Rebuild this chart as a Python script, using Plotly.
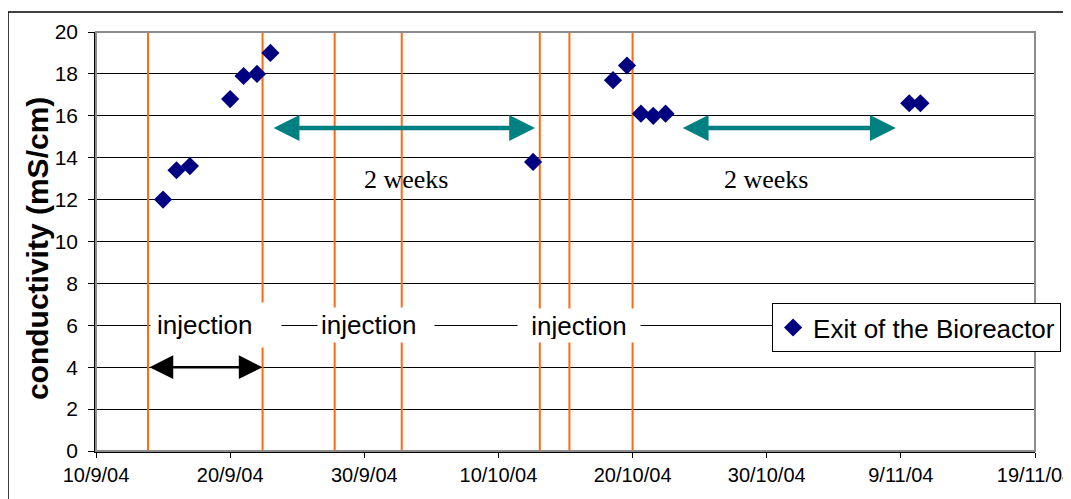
import plotly.graph_objects as go

# ---- data ----
sample_dates = [
    "2004-09-15", "2004-09-16", "2004-09-17", "2004-09-20", "2004-09-21",
    "2004-09-22", "2004-09-23", "2004-10-12 14:00", "2004-10-18 13:00",
    "2004-10-19 14:00", "2004-10-20 15:00", "2004-10-21 13:00",
    "2004-10-22 11:00", "2004-11-09 15:00", "2004-11-10 11:00",
]
conductivity = [12.0, 13.4, 13.6, 16.8, 17.9, 18.0, 19.0, 13.8, 17.7,
                18.4, 16.1, 16.0, 16.1, 16.6, 16.6]

injection_lines = [
    "2004-09-13 21:00", "2004-09-22 10:00", "2004-09-27 19:00",
    "2004-10-02 19:00", "2004-10-13 02:00", "2004-10-15 07:00",
    "2004-10-20 00:00",
]

tick_dates = ["2004-09-10", "2004-09-20", "2004-09-30", "2004-10-10",
              "2004-10-20", "2004-10-30", "2004-11-09", "2004-11-19"]
tick_labels = ["10/9/04", "20/9/04", "30/9/04", "10/10/04",
               "20/10/04", "30/10/04", "9/11/04", "19/11/04"]

SANS = "Liberation Sans, Arial, sans-serif"
SERIF = "Liberation Serif, Times New Roman, serif"
ORANGE = "#FF6A10"
TEAL = "#008080"

fig = go.Figure()
fig.add_trace(go.Scatter(
    x=sample_dates, y=conductivity, mode="markers",
    name="Exit of the Bioreactor",
    marker=dict(symbol="diamond", size=14, color="#000080"),
))

# orange injection markers
for d in injection_lines:
    fig.add_shape(type="line", xref="x", yref="y", x0=d, x1=d, y0=0, y1=20,
                  line=dict(color=ORANGE, width=2), layer="between")

# plot border (grey top/right) and outer frame
fig.add_shape(type="rect", xref="paper", yref="paper", x0=0, x1=1, y0=0, y1=1,
              line=dict(color="#8c8c8c", width=2))
fig.add_shape(type="line", xref="paper", yref="paper", x0=-0.0937, x1=1.1,
              y0=1.0477, y1=1.0477, line=dict(color="black", width=1.5))
fig.add_shape(type="line", xref="paper", yref="paper", x0=-0.0937, x1=-0.0937,
              y0=1.0477, y1=-0.2, line=dict(color="black", width=1.5))

annotations = []

# injection labels (white boxes cut the lines)
for x, w, h, pad, align in [("2004-09-18 22:00", 118, 32, 6, "left"),
                            ("2004-09-30 21:00", 110, 28, 3, "left"),
                            ("2004-10-16 00:00", 116, 27, 3, "center")]:
    annotations.append(dict(x=x, y=6, xref="x", yref="y", text="injection",
                            showarrow=False, bgcolor="white", width=w, height=h,
                            borderpad=pad, align=align,
                            font=dict(family=SANS, size=26, color="black")))

# "2 weeks" labels
for x in ["2004-10-03 02:00", "2004-10-29 23:00"]:
    annotations.append(dict(x=x, y=12.94, xref="x", yref="y", text="2 weeks",
                            showarrow=False,
                            font=dict(family=SERIF, size=26, color="black")))

# arrows
for x0, x1, y, col, wd, sz in [
        ("2004-09-13 21:00", "2004-09-22 10:00", 4, "black", 2.5, 1.9),
        ("2004-09-23 03:00", "2004-10-12 17:30", 15.42, TEAL, 4.5, 1.15),
        ("2004-10-23 15:00", "2004-11-08 15:00", 15.42, TEAL, 4.5, 1.15)]:
    annotations.append(dict(x=x1, y=y, ax=x0, ay=y, xref="x", yref="y",
                            axref="x", ayref="y", text="", showarrow=True,
                            arrowside="end+start", arrowhead=2, startarrowhead=2,
                            arrowsize=sz, startarrowsize=sz, arrowwidth=wd,
                            arrowcolor=col, standoff=0, startstandoff=0))

# y axis title
annotations.append(dict(x=-0.0628, y=0.482, xref="paper", yref="paper",
                        xanchor="center", yanchor="middle",
                        text="<b>conductivity (mS/cm)</b>", textangle=-90,
                        showarrow=False,
                        font=dict(family=SANS, size=30, color="black")))

# the page body adds an 8px offset, so the figure is 8px smaller
fig.update_layout(
    width=1063, height=491,
    margin=dict(l=88, r=36, t=24, b=48, autoexpand=False),
    paper_bgcolor="white", plot_bgcolor="white",
    font=dict(family=SANS, color="black"),
    annotations=annotations,
    showlegend=True,
    legend=dict(x=0.72, y=0.353, xanchor="left", yanchor="top",
                bgcolor="white", bordercolor="black", borderwidth=1,
                font=dict(family=SANS, size=26, color="black"),
                itemwidth=30, tracegroupgap=0),
    xaxis=dict(type="date", range=["2004-09-10", "2004-11-19"],
               tickvals=tick_dates, ticktext=tick_labels,
               automargin=False, ticklabeloverflow="allow",
               showgrid=False, zeroline=False,
               showline=True, linecolor="black", linewidth=1.5,
               ticks="outside", ticklen=5, tickcolor="black",
               tickfont=dict(family=SANS, size=20, color="black")),
    yaxis=dict(range=[0, 20], dtick=2, tick0=0,
               automargin=False,
               showgrid=True, gridcolor="black", gridwidth=1,
               zeroline=False,
               showline=True, linecolor="black", linewidth=1.5,
               ticks="outside", ticklen=6, tickcolor="black",
               ticklabelstandoff=6,
               tickfont=dict(family=SANS, size=21, color="black")),
)

fig.write_html("out.html")
